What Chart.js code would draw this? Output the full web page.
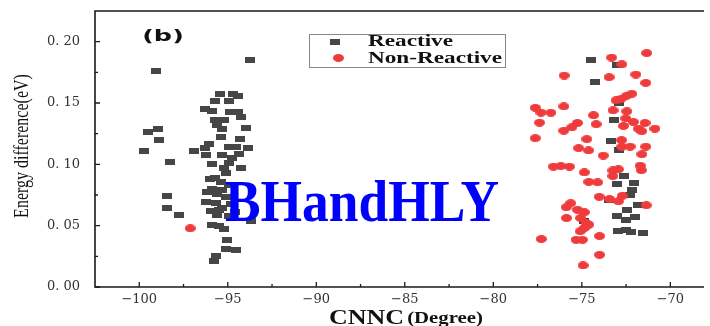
<!DOCTYPE html>
<html>
<head>
<meta charset="utf-8">
<script src="https://cdn.jsdelivr.net/npm/chart.js@4.4.1/dist/chart.umd.min.js"></script>
<style>
  body { margin: 0; background: #fff; }
  #wrap { width: 710px; height: 326px; }
</style>
</head>
<body>
<div id="wrap"><canvas id="scatter" width="710" height="326"></canvas></div>
<script>
const xTicks = [-100, -95, -90, -85, -80, -75, -70];
const yTicks = [0, 0.05, 0.10, 0.15, 0.20];

// CNNC angle (degree) and energy difference (eV), reactive set
const reactiveX = [
  -93.76, -99.06, -95.44, -94.70, -94.43, -95.74, -94.92, -96.26, -95.89, -94.88,
  -94.43, -94.25, -95.70, -95.22, -95.59, -98.95, -99.51, -93.95, -95.31, -95.37,
  -98.91, -94.32, -99.73, -96.93, -96.30, -96.05, -94.94, -94.56, -93.86, -96.24,
  -95.34, -94.38, -94.75, -98.29, -95.90, -94.94, -94.28, -95.09, -95.72, -95.40,
  -94.94, -96.15, -95.59, -95.12, -98.46, -96.24, -95.68, -98.42, -95.96, -95.31,
  -95.59, -94.94, -97.73, -93.69, -95.87, -95.50, -95.22, -95.03, -95.12, -94.56,
  -95.68, -95.78, -95.90, -95.30, -94.80, -95.50, -94.60, -96.00, -95.20,
  -74.47, -73.03, -74.27, -72.88, -73.21, -73.33, -72.90, -72.62, -72.03, -73.02,
  -72.18, -72.29, -73.49, -71.82, -72.46, -73.02, -72.02, -72.48, -72.93, -72.48,
  -72.24, -71.57, -74.89
];
const reactiveY = [
  0.1850, 0.1760, 0.1575, 0.1575, 0.1553, 0.1513, 0.1513, 0.1453, 0.1434, 0.1426,
  0.1426, 0.1388, 0.1359, 0.1359, 0.1318, 0.1291, 0.1264, 0.1297, 0.1286, 0.1224,
  0.1199, 0.1205, 0.1108, 0.1110, 0.1135, 0.1164, 0.1143, 0.1143, 0.1137, 0.1075,
  0.1075, 0.1088, 0.1048, 0.1015, 0.0999, 0.1007, 0.0967, 0.0926, 0.0886, 0.0859,
  0.0832, 0.0778, 0.0756, 0.0737, 0.0743, 0.0691, 0.0683, 0.0643, 0.0616, 0.0643,
  0.0589, 0.0575, 0.0583, 0.0540, 0.0508, 0.0494, 0.0476, 0.0387, 0.0310, 0.0300,
  0.0251, 0.0216, 0.0800, 0.0790, 0.0680, 0.0630, 0.0610, 0.0880, 0.0970,
  0.1850, 0.1810, 0.1675, 0.1501, 0.1361, 0.1194, 0.1116, 0.0902, 0.0851, 0.0839,
  0.0788, 0.0748, 0.0711, 0.0665, 0.0630, 0.0575, 0.0567, 0.0549, 0.0454, 0.0468,
  0.0446, 0.0438, 0.0540
];

// non-reactive set
const nonReactiveX = [
  -71.34, -73.32, -72.74, -76.00, -73.46, -71.95, -71.39, -72.18, -72.50, -72.78,
  -73.07, -77.63, -77.31, -76.75, -76.02, -73.24, -72.46, -74.34, -77.39, -75.25,
  -75.57, -76.02, -74.19, -72.52, -72.65, -72.09, -71.43, -71.81, -71.62, -70.87,
  -77.63, -74.72, -72.76, -72.74, -72.27, -71.39, -75.18, -74.62, -73.79, -71.61,
  -76.61, -76.19, -75.70, -71.71, -71.64, -74.86, -73.25, -72.93, -73.25, -74.61,
  -74.11, -74.02, -73.44, -72.93, -72.71, -71.36, -75.63, -75.88, -75.25, -74.86,
  -75.87, -75.07, -74.75, -74.61, -74.85, -75.09, -74.00, -77.29, -75.33, -74.97,
  -74.00, -74.93, -97.12
];
const nonReactiveY = [
  0.1907, 0.1870, 0.1815, 0.1724, 0.1710, 0.1732, 0.1664, 0.1575, 0.1556, 0.1534,
  0.1521, 0.1461, 0.1422, 0.1421, 0.1472, 0.1440, 0.1432, 0.1400, 0.1340, 0.1337,
  0.1301, 0.1274, 0.1327, 0.1374, 0.1313, 0.1345, 0.1337, 0.1291, 0.1270, 0.1291,
  0.1213, 0.1205, 0.1197, 0.1143, 0.1144, 0.1144, 0.1132, 0.1113, 0.1071, 0.1082,
  0.0981, 0.0986, 0.0981, 0.0989, 0.0952, 0.0934, 0.0950, 0.0959, 0.0904, 0.0857,
  0.0853, 0.0735, 0.0717, 0.0699, 0.0744, 0.0666, 0.0683, 0.0650, 0.0630, 0.0609,
  0.0562, 0.0562, 0.0521, 0.0508, 0.0481, 0.0454, 0.0415, 0.0391, 0.0385, 0.0385,
  0.0262, 0.0176, 0.0478
];

const GRAY = '#464646';
const RED = '#ef3b3b';

// small bitmaps used as point styles (flat rectangles / ellipses)
function makeMarker(w, h, color, round) {
  const c = document.createElement('canvas');
  c.width = w;
  c.height = h;
  const g = c.getContext('2d');
  g.fillStyle = color;
  if (round) {
    g.beginPath();
    g.ellipse(w / 2, h / 2, w / 2, h / 2, 0, 0, Math.PI * 2);
    g.fill();
  } else {
    g.fillRect(0, 0, w, h);
  }
  return c;
}
const squareMark = makeMarker(10, 6, GRAY, false);
const roundMark = makeMarker(11, 8, RED, true);

// text squeezed/stretched along x
function wideText(ctx, text, x, y, sx, align) {
  ctx.save();
  ctx.translate(x, y);
  ctx.scale(sx, 1);
  ctx.textAlign = align || 'left';
  ctx.fillText(text, 0, 0);
  ctx.restore();
}

const decorations = {
  id: 'decorations',
  beforeDatasetsDraw(chart) {
    const { ctx, chartArea: a, scales: { x, y } } = chart;
    ctx.save();
    ctx.strokeStyle = '#1a1a1a';
    ctx.lineWidth = 1.6;
    ctx.beginPath();
    ctx.moveTo(a.right, a.top);
    ctx.lineTo(a.left, a.top);
    ctx.lineTo(a.left, a.bottom);
    ctx.lineTo(a.right, a.bottom);
    ctx.stroke();

    // inward major + minor ticks
    ctx.lineWidth = 1.3;
    ctx.beginPath();
    xTicks.forEach(v => {
      const p = x.getPixelForValue(v);
      ctx.moveTo(p, a.bottom);
      ctx.lineTo(p, a.bottom - 5);
      const m = x.getPixelForValue(v + 2.5);
      if (m < a.right) {
        ctx.moveTo(m, a.bottom);
        ctx.lineTo(m, a.bottom - 3);
      }
    });
    yTicks.forEach(v => {
      const p = y.getPixelForValue(v);
      ctx.moveTo(a.left, p);
      ctx.lineTo(a.left + 5, p);
      const m = y.getPixelForValue(v + 0.025);
      if (m > a.top) {
        ctx.moveTo(a.left, m);
        ctx.lineTo(a.left + 3, m);
      }
    });
    ctx.stroke();
    ctx.restore();
  },
  afterDatasetsDraw(chart) {
    const { ctx } = chart;
    ctx.save();
    ctx.textBaseline = 'middle';

    // panel tag
    ctx.fillStyle = '#111';
    ctx.font = 'bold 15px "DejaVu Sans"';
    wideText(ctx, '(b)', 163, 37, 1.7, 'center');

    // legend box
    ctx.strokeStyle = '#888';
    ctx.lineWidth = 1;
    ctx.strokeRect(309.5, 34.5, 196, 33);
    ctx.drawImage(squareMark, 330, 39);
    ctx.drawImage(roundMark, 333, 54);
    ctx.fillStyle = '#111';
    ctx.font = 'bold 16px "Liberation Serif"';
    wideText(ctx, 'Reactive', 368, 42, 1.45);
    wideText(ctx, 'Non-Reactive', 368, 59, 1.45);

    // functional label
    ctx.fillStyle = '#0000ff';
    ctx.font = 'bold 60px "Liberation Serif"';
    wideText(ctx, 'BHandHLY', 362, 205, 0.89, 'center');
    ctx.restore();
  },
  afterDraw(chart) {
    const { ctx } = chart;
    ctx.save();
    ctx.fillStyle = '#111';
    ctx.textBaseline = 'alphabetic';

    // x title: "CNNC" + smaller "(Degree)"
    const sx = 1.3;
    ctx.font = 'bold 20px "Liberation Serif"';
    const w1 = ctx.measureText('CNNC').width * sx;
    ctx.font = 'bold 16px "Liberation Serif"';
    const w2 = ctx.measureText('(Degree)').width * sx;
    const start = 406 - (w1 + w2 + 3) / 2;
    ctx.font = 'bold 20px "Liberation Serif"';
    wideText(ctx, 'CNNC', start, 324, sx);
    ctx.font = 'bold 16px "Liberation Serif"';
    wideText(ctx, '(Degree)', start + w1 + 3, 323, sx);

    // y title, rotated
    ctx.translate(22, 146);
    ctx.rotate(-Math.PI / 2);
    ctx.scale(1, 1.35);
    ctx.textAlign = 'center';
    ctx.textBaseline = 'middle';
    ctx.font = '16px "Liberation Serif"';
    ctx.fillText('Energy difference(eV)', 0, 0);
    ctx.restore();
  }
};

new Chart(document.getElementById('scatter'), {
  type: 'scatter',
  data: {
    datasets: [
      {
        label: 'Reactive',
        data: reactiveX.map((v, i) => ({ x: v, y: reactiveY[i] })),
        pointStyle: squareMark,
        pointRadius: 5,
        order: 1
      },
      {
        label: 'Non-Reactive',
        data: nonReactiveX.map((v, i) => ({ x: v, y: nonReactiveY[i] })),
        pointStyle: roundMark,
        pointRadius: 5,
        order: 0
      }
    ]
  },
  options: {
    responsive: false,
    animation: false,
    events: [],
    layout: { padding: { top: 11, right: 0, bottom: 0, left: 0 } },
    plugins: {
      legend: { display: false },
      tooltip: { enabled: false }
    },
    scales: {
      x: {
        type: 'linear',
        min: -102.5,
        max: -68.1,
        afterBuildTicks: s => { s.ticks = xTicks.map(v => ({ value: v })); },
        afterFit: s => {
          s.height = 39;
          s.paddingLeft = 0;
          s.paddingRight = 0;
        },
        grid: { display: false, drawTicks: false },
        border: { display: false },
        ticks: {
          padding: 5,
          color: '#333',
          font: { family: '"DejaVu Serif"', size: 13 },
          callback: v => (v < 0 ? '\u2212' + Math.abs(v) : String(v))
        }
      },
      y: {
        type: 'linear',
        min: 0,
        max: 0.225,
        afterBuildTicks: s => { s.ticks = yTicks.map(v => ({ value: v })); },
        afterFit: s => {
          s.width = 95;
          s.paddingTop = 0;
          s.paddingBottom = 0;
        },
        grid: { display: false, drawTicks: false },
        border: { display: false },
        ticks: {
          padding: 15,
          color: '#333',
          font: { family: '"DejaVu Serif"', size: 13 },
          callback: v => v.toFixed(2).replace('.', '. ')
        }
      }
    }
  },
  plugins: [decorations]
});
</script>
</body>
</html>
